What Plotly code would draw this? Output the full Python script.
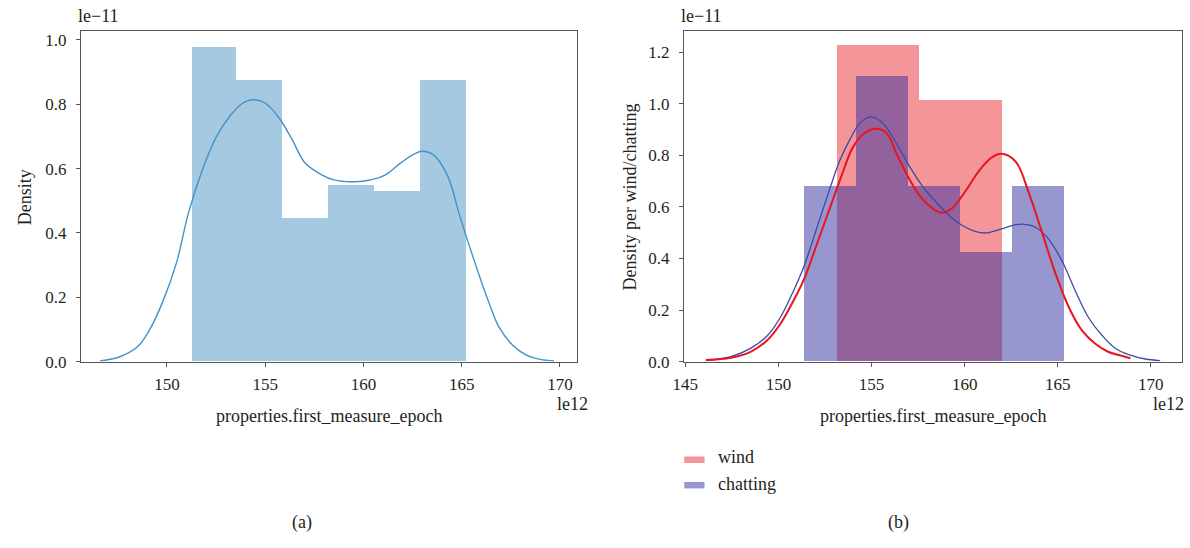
import plotly.graph_objects as go

# ---------------- data (x in units of 1e12, density in units of 1e-11) ----------------
# panel (a): all measurements
all_edges = [151.26, 153.50, 155.85, 158.22, 160.54, 162.88, 165.23]
all_heights = [0.977, 0.875, 0.446, 0.549, 0.529, 0.875]
all_kde_x = [146.6, 147.6, 148.5, 149.1, 149.8, 150.5, 151.1, 151.8, 152.5, 153.2,
             153.8, 154.4, 155.0, 155.7, 156.4, 157.0, 157.9, 158.5, 159.4, 160.2,
             161.1, 161.9, 162.6, 163.0, 163.6, 164.3, 164.9, 165.6, 166.3, 166.9,
             167.6, 168.3, 169.0, 169.7]
all_kde_y = [0.002, 0.015, 0.046, 0.097, 0.188, 0.310, 0.463, 0.595, 0.697, 0.763,
             0.801, 0.814, 0.804, 0.758, 0.687, 0.620, 0.580, 0.565, 0.559, 0.563,
             0.580, 0.618, 0.646, 0.654, 0.641, 0.575, 0.453, 0.321, 0.198, 0.107,
             0.051, 0.020, 0.007, 0.002]

# panel (b): per class
wind_edges = [153.13, 157.54, 161.99]
wind_heights = [1.228, 1.014]
chat_edges = [151.40, 154.16, 156.95, 159.73, 162.52, 165.33]
chat_heights = [0.682, 1.106, 0.682, 0.425, 0.682]

wind_kde_x = [146.1, 147.45, 148.5, 149.4, 150.1, 150.8, 151.4, 152.1, 152.8, 153.5,
              154.0, 154.6, 155.2, 155.8, 156.35, 157.05, 157.75, 158.5, 158.85, 159.35,
              160.1, 160.8, 161.5, 162.0, 162.75, 163.45, 164.15, 164.9, 165.6, 166.3,
              167.0, 167.7, 168.4, 168.9]
wind_kde_y = [0.006, 0.015, 0.038, 0.083, 0.146, 0.235, 0.324, 0.463, 0.603, 0.743,
              0.832, 0.885, 0.903, 0.887, 0.806, 0.705, 0.629, 0.584, 0.578, 0.597,
              0.667, 0.743, 0.794, 0.806, 0.775, 0.654, 0.502, 0.337, 0.210, 0.121,
              0.070, 0.038, 0.023, 0.013]
chat_kde_x = [146.1, 147.45, 148.5, 149.4, 150.1, 150.8, 151.4, 152.1, 152.8, 153.3,
              153.9, 154.4, 155.0, 155.6, 156.35, 157.05, 157.75, 158.5, 159.2, 159.9,
              160.6, 161.15, 161.85, 162.75, 163.1, 163.8, 164.5, 165.25, 165.95, 166.65,
              167.4, 168.1, 168.9, 169.7, 170.5]
chat_kde_y = [0.004, 0.019, 0.051, 0.100, 0.171, 0.273, 0.375, 0.527, 0.679, 0.781,
              0.870, 0.927, 0.949, 0.925, 0.844, 0.756, 0.679, 0.616, 0.565, 0.527,
              0.504, 0.499, 0.512, 0.531, 0.533, 0.521, 0.476, 0.387, 0.273, 0.171,
              0.100, 0.051, 0.025, 0.010, 0.004]

x_tick_a = [150, 155, 160, 165, 170]
x_tick_b = [145, 150, 155, 160, 165, 170]
y_tick_a = [0.0, 0.2, 0.4, 0.6, 0.8, 1.0]
y_tick_b = [0.0, 0.2, 0.4, 0.6, 0.8, 1.0, 1.2]

# ---------------- styling ----------------
W, H = 1190, 548
FONT = "Liberation Serif"
TXT = "#231f20"
AX = "#555555"
BLUE_HIST = "rgba(31,119,180,0.4)"
BLUE_LINE = "#4193c9"
WIND_FILL = "rgba(232,30,40,0.47)"
WIND_LINE = "#e8141f"
CHAT_FILL = "rgba(50,45,158,0.5)"
CHAT_LINE = "#3a4aa6"


def bars(edges, heights, color, xa, ya, name):
    centers = [(a + b) / 2 for a, b in zip(edges[:-1], edges[1:])]
    widths = [b - a for a, b in zip(edges[:-1], edges[1:])]
    return go.Bar(x=centers, y=heights, width=widths, name=name,
                  marker=dict(color=color, line=dict(width=0)),
                  xaxis=xa, yaxis=ya, showlegend=False, hoverinfo="skip")


def curve(x, y, color, width, xa, ya, name):
    return go.Scatter(x=x, y=y, mode="lines", name=name,
                      line=dict(color=color, width=width, shape="spline", smoothing=1.0),
                      xaxis=xa, yaxis=ya, showlegend=False, hoverinfo="skip")


fig = go.Figure()
fig.add_trace(bars(all_edges, all_heights, BLUE_HIST, "x", "y", "all"))
fig.add_trace(curve(all_kde_x, all_kde_y, BLUE_LINE, 1.4, "x", "y", "all kde"))

fig.add_trace(bars(wind_edges, wind_heights, WIND_FILL, "x2", "y2", "wind"))
fig.add_trace(bars(chat_edges, chat_heights, CHAT_FILL, "x2", "y2", "chatting"))
fig.add_trace(curve(chat_kde_x, chat_kde_y, CHAT_LINE, 1.3, "x2", "y2", "chatting kde"))
fig.add_trace(curve(wind_kde_x, wind_kde_y, WIND_LINE, 2.0, "x2", "y2", "wind kde"))


def px(v):
    return v / W


def py(v):
    return 1 - v / H


axis_common = dict(showline=True, mirror=True, linecolor=AX, linewidth=1.3,
                   ticks="outside", ticklen=4, tickwidth=1.2, tickcolor=AX,
                   showgrid=False, zeroline=False,
                   tickfont=dict(family=FONT, size=17, color=TXT))

plot_top, plot_bot = 31.7, 368.3
fig.update_layout(
    width=W, height=H, margin=dict(l=0, r=0, t=0, b=0),
    paper_bgcolor="white", plot_bgcolor="white",
    barmode="overlay", bargap=0, showlegend=False,
    xaxis=dict(domain=[px(70.7), px(571.7)], range=[145.63, 170.89],
               tickvals=x_tick_a, ticktext=[str(v) for v in x_tick_a],
               anchor="y", ticklabelstandoff=3, **axis_common),
    yaxis=dict(domain=[py(plot_bot), py(plot_top)], range=[0, 1.0275],
               tickvals=y_tick_a, tickformat=".1f", anchor="x",
               ticklabelstandoff=6, **axis_common),
    xaxis2=dict(domain=[px(679.3), px(1181.7)], range=[144.93, 171.66],
                tickvals=x_tick_b, ticktext=[str(v) for v in x_tick_b],
                anchor="y2", ticklabelstandoff=3, **axis_common),
    yaxis2=dict(domain=[py(plot_bot), py(plot_top)], range=[0, 1.282],
                tickvals=y_tick_b, tickformat=".1f", anchor="x2",
                ticklabelstandoff=6, **axis_common),
)


def note(text, x, y, xanchor="center", yanchor="middle", angle=0, size=18):
    fig.add_annotation(text=text, x=px(x), y=py(y), xref="paper", yref="paper",
                       xanchor=xanchor, yanchor=yanchor, textangle=angle,
                       showarrow=False, font=dict(family=FONT, size=size, color=TXT))


# offset / scale labels
note("le\u221211", 65.5, 16, xanchor="left")
note("le\u221211", 674.5, 16, xanchor="left")
note("le12", 549.5, 411, xanchor="left")
note("le12", 1150.5, 411, xanchor="left")

# axis titles
note("properties.first_measure_epoch", 320.5, 424)
note("properties.first_measure_epoch", 930.5, 424)
note("Density", 14, 201, angle=-90)
note("Density per wind/chatting", 625, 201, angle=-90)

# panel captions
note("(a)", 294, 532)
note("(b)", 896, 532)

# legend for panel (b)
legend_items = [("wind", WIND_FILL, 466, 468.3), ("chatting", CHAT_FILL, 493.3, 494.2)]
for label, color, yt, ys in legend_items:
    fig.add_shape(type="rect", xref="paper", yref="paper",
                  x0=px(679.5), x1=px(700), y0=py(ys + 3.3), y1=py(ys - 3.3),
                  fillcolor=color, line=dict(width=0))
    note(label, 712, yt, xanchor="left")

fig.write_html("out.html")
